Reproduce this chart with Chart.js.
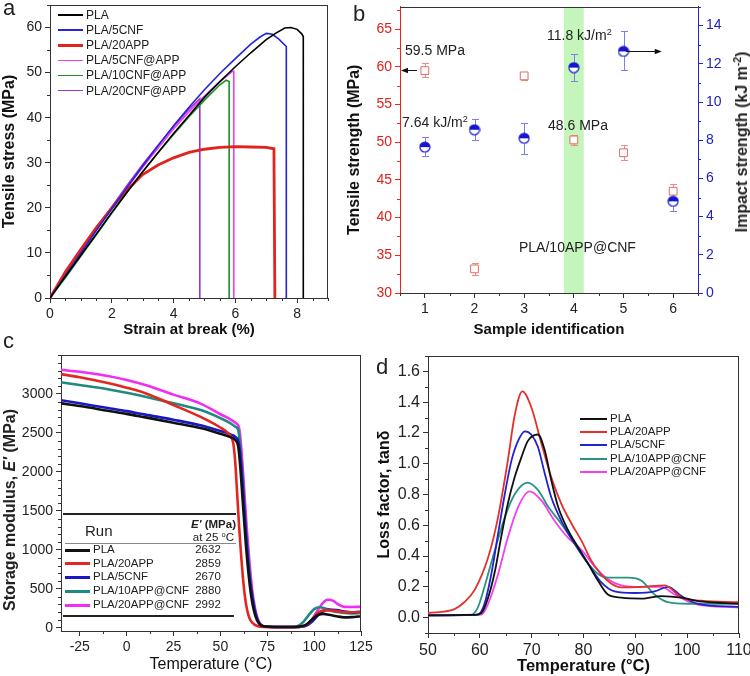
<!DOCTYPE html>
<html>
<head>
<meta charset="utf-8">
<script src="https://cdn.jsdelivr.net/npm/chart.js@4.4.1/dist/chart.umd.min.js"></script>
<style>
  body { margin: 0; background: #fff; }
  #fig { position: relative; width: 750px; height: 676px; overflow: hidden; background: #fff;
         font-family: "Liberation Sans", Arial, sans-serif; color: #222; }
  #fig canvas { position: absolute; }
  .t { position: absolute; white-space: nowrap; line-height: 1; }
  .mid { transform: translateY(-50%); }
  .rot { transform: translate(-50%, -50%) rotate(-90deg); font-weight: bold; font-size: 16px; }
  .panel { font-size: 22px; }
  sup { font-size: 65%; vertical-align: 0.55em; line-height: 0; }
</style>
</head>
<body>
<div id="fig">
  <canvas id="chartA" width="375" height="340" style="left:0;top:0"></canvas>
  <canvas id="chartB" width="405" height="340" style="left:345px;top:0"></canvas>
  <canvas id="chartC" width="375" height="336" style="left:0;top:340px"></canvas>
  <canvas id="chartD" width="375" height="336" style="left:375px;top:340px"></canvas>

  <div class="t panel" style="left:3px;top:-3px">a</div>
  <div class="t panel" style="left:353px;top:3px">b</div>
  <div class="t panel" style="left:3px;top:330px">c</div>
  <div class="t panel" style="left:376px;top:356px">d</div>

  <!-- panel b notes -->
  <div class="t mid" style="left:405px;top:50px;font-size:14px">59.5 MPa</div>
  <div class="t mid" style="left:402px;top:122px;font-size:14px">7.64 kJ/m<sup>2</sup></div>
  <div class="t mid" style="left:547px;top:35px;font-size:14px">11.8 kJ/m<sup>2</sup></div>
  <div class="t mid" style="left:548px;top:125px;font-size:14px">48.6 MPa</div>
  <div class="t mid" style="left:519px;top:247px;font-size:14px">PLA/10APP@CNF</div>
  <div class="t rot" style="left:742px;top:142px">Impact strength (kJ m<sup>-2</sup>)</div>

  <!-- panel c titles and table -->
  <div class="t rot" style="left:10px;top:510px">Storage modulus, <i>E'</i> (MPa)</div>
  <div style="position:absolute;left:63px;top:513px;width:173px;height:2px;background:#222"></div>
  <div style="position:absolute;left:65px;top:543px;width:171px;height:1px;background:#888"></div>
  <div style="position:absolute;left:63px;top:615px;width:171px;height:2px;background:#222"></div>
  <div class="t mid" style="left:85px;top:530px;font-size:15px">Run</div>
  <div class="t mid" style="right:514px;top:525px;font-size:11.5px;font-weight:bold"><i>E'</i> (MPa)</div>
  <div class="t mid" style="right:516px;top:538px;font-size:11.5px">at 25 <sup>o</sup>C</div>
</div>

<script>
Chart.defaults.font.family = "'Liberation Sans', Arial, sans-serif";
Chart.defaults.color = "#222";
Chart.defaults.animation = false;
Chart.defaults.plugins.legend.display = false;
Chart.defaults.plugins.tooltip.enabled = false;
Chart.defaults.elements.point.radius = 0;

// ---- a: stress-strain curves ----
const strainPLA = [0, 0.5, 1, 1.5, 2, 2.5, 3, 3.5, 4, 4.5, 5, 5.5, 6, 6.5, 7, 7.3, 7.6, 7.8, 8.0, 8.15, 8.2, 8.2];
const stressPLA = [0, 4.8, 9.5, 14.2, 19, 23.5, 28, 32.3, 36.5, 40.5, 44.5, 48, 51.3, 54.4, 57.3, 58.7, 59.9, 60, 59.6, 58.6, 58, 0];
const strain5CNF = [0, 0.5, 1, 1.5, 2, 2.5, 3, 3.5, 4, 4.5, 5, 5.5, 6, 6.5, 6.8, 7.0, 7.2, 7.4, 7.65, 7.65];
const stress5CNF = [0, 5, 10, 15, 19.8, 24.6, 29.3, 33.8, 38.2, 42.3, 46.2, 49.8, 53.1, 56.3, 57.9, 58.7, 58.5, 57.5, 55.8, 0];
const strain20APP = [0, 0.5, 1, 1.5, 2, 2.5, 3, 3.5, 4, 4.5, 5, 5.5, 6, 6.5, 7, 7.25, 7.28];
const stress20APP = [0, 5.8, 10.8, 15.6, 20, 24, 27.4, 29.5, 31.1, 32.3, 33, 33.4, 33.6, 33.5, 33.4, 33.1, 0];
const strain5CNFAPP = [0, 0.5, 1, 1.5, 2, 2.5, 3, 3.5, 4, 4.5, 5, 5.5, 5.9, 5.95, 5.95];
const stress5CNFAPP = [0, 5, 10, 15, 19.8, 24.5, 29, 33.3, 37.5, 41.3, 44.8, 48, 50.3, 50.3, 0];
const strain10CNFAPP = [0, 0.5, 1, 1.5, 2, 2.5, 3, 3.5, 4, 4.5, 5, 5.5, 5.7, 5.8, 5.8];
const stress10CNFAPP = [0, 4.5, 9.3, 14, 18.8, 23.5, 28, 32.2, 36.3, 40.2, 43.9, 47.3, 48.3, 48, 0];
const strain20CNFAPP = [0, 0.5, 1, 1.5, 2, 2.5, 3, 3.5, 4, 4.5, 4.85, 4.85];
const stress20CNFAPP = [0, 5.2, 10.3, 15.3, 20.2, 25, 29.6, 33.9, 38, 41.9, 44.2, 0];
const namesA = ["PLA", "PLA/5CNF", "PLA/20APP", "PLA/5CNF@APP", "PLA/10CNF@APP", "PLA/20CNF@APP"];
const strainA = [strainPLA, strain5CNF, strain20APP, strain5CNFAPP, strain10CNFAPP, strain20CNFAPP];
const stressA = [stressPLA, stress5CNF, stress20APP, stress5CNFAPP, stress10CNFAPP, stress20CNFAPP];
const ticksStrain = [0, 2, 4, 6, 8];
const ticksStress = [0, 10, 20, 30, 40, 50, 60];

// ---- b: tensile and impact strength ----
const sampleIds = [1, 2, 3, 4, 5, 6];
const tensileMean = [59.5, 33.2, 58.8, 50.3, 48.6, 43.5];
const tensileLow = [58.6, 32.4, 58.3, 49.6, 47.7, 42.6];
const tensileHigh = [60.5, 34.0, 59.2, 50.9, 49.6, 44.4];
const impactMean = [7.64, 8.55, 8.1, 11.8, 12.65, 4.8];
const impactLow = [7.15, 8.0, 7.3, 11.1, 11.7, 4.3];
const impactHigh = [8.15, 9.1, 8.9, 12.5, 13.7, 5.2];
const bandRange = [3.8, 4.2];
const ticksSample = [1, 2, 3, 4, 5, 6];
const ticksTensile = [30, 35, 40, 45, 50, 55, 60, 65];
const ticksImpact = [0, 2, 4, 6, 8, 10, 12, 14];

// ---- c: storage modulus ----
const tempPLA_c = [-35, -25, -10, 0, 10, 25, 40, 50, 55, 58, 59.5, 60.5, 62, 63.5, 65, 66.5, 68, 69.5, 71, 73, 80, 90, 93, 96, 99, 102, 105, 108, 112, 116, 120, 125];
const modPLA = [2880, 2845, 2785, 2745, 2700, 2632, 2560, 2490, 2450, 2410, 2330, 2100, 1600, 1100, 700, 400, 210, 100, 45, 20, 12, 12, 20, 45, 110, 165, 180, 168, 150, 135, 138, 150];
const temp20APP_c = [-35, -25, -10, 0, 10, 25, 40, 50, 54, 56, 57, 58, 59, 60, 61, 62, 63, 64, 65, 66, 68, 70, 73, 80, 90, 93, 96, 99, 102, 105, 108, 112, 116, 120, 125];
const mod20APP = [3255, 3215, 3140, 3080, 3010, 2859, 2700, 2570, 2500, 2440, 2350, 2100, 1700, 1300, 950, 650, 420, 260, 160, 100, 45, 22, 12, 10, 10, 15, 40, 110, 190, 225, 225, 215, 200, 200, 205];
const temp5CNF_c = [-35, -25, -10, 0, 10, 25, 40, 50, 55, 58, 59.5, 60.5, 62, 63.5, 65, 66.5, 68, 69.5, 71, 73, 80, 90, 93, 96, 99, 102, 105, 108, 112, 116, 120, 125];
const mod5CNF = [2920, 2880, 2820, 2780, 2735, 2670, 2595, 2525, 2485, 2450, 2400, 2250, 1800, 1250, 800, 480, 260, 120, 50, 22, 12, 12, 15, 30, 80, 160, 215, 235, 228, 210, 200, 205];
const temp10APPCNF_c = [-35, -25, -10, 0, 10, 25, 40, 50, 55, 58, 59.5, 60.5, 62, 63.5, 65, 66.5, 68, 69.5, 71, 73, 80, 88, 91, 94, 97, 100, 103, 106, 110, 115, 120, 125];
const mod10APPCNF = [3150, 3115, 3060, 3015, 2965, 2880, 2790, 2690, 2630, 2580, 2540, 2350, 1850, 1300, 850, 500, 270, 120, 50, 20, 12, 12, 20, 70, 160, 240, 265, 250, 215, 195, 185, 190];
const temp20APPCNF_c = [-35, -25, -10, 0, 10, 25, 40, 50, 55, 58, 60, 61, 62.5, 64, 65.5, 67, 68.5, 70, 71.5, 73.5, 80, 92, 95, 98, 101, 104, 107, 110, 113, 116, 120, 125];
const mod20APPCNF = [3310, 3285, 3230, 3180, 3115, 2992, 2870, 2740, 2680, 2630, 2560, 2350, 1850, 1300, 850, 480, 250, 110, 45, 18, 12, 12, 25, 80, 190, 300, 360, 350, 300, 270, 268, 270];
const namesCD = ["PLA", "PLA/20APP", "PLA/5CNF", "PLA/10APP@CNF", "PLA/20APP@CNF"];
const modAt25 = ["2632", "2859", "2670", "2880", "2992"];
const tempC = [tempPLA_c, temp20APP_c, temp5CNF_c, temp10APPCNF_c, temp20APPCNF_c];
const modC = [modPLA, mod20APP, mod5CNF, mod10APPCNF, mod20APPCNF];
const ticksTempC = [-25, 0, 25, 50, 75, 100, 125];
const ticksMod = [0, 500, 1000, 1500, 2000, 2500, 3000];

// ---- d: loss factor ----
const tempPLA_d = [50, 59, 60.3, 61.6, 62.9, 64.1, 65.4, 66.7, 68, 69.3, 71.2, 72.5, 73.8, 75.1, 77, 78.9, 80.9, 82.8, 84.7, 87.3, 91.2, 95, 98.9, 102.7, 110];
const tanPLA = [0.015, 0.018, 0.03, 0.13, 0.3, 0.52, 0.74, 0.91, 1.04, 1.15, 1.19, 1.09, 0.89, 0.72, 0.57, 0.46, 0.35, 0.24, 0.15, 0.13, 0.124, 0.14, 0.13, 0.105, 0.09];
const temp20APP_d = [50, 55, 57, 59, 61.6, 63.5, 65.4, 66.7, 68.2, 69.9, 71.9, 73.8, 75.7, 77.7, 79.6, 81.5, 83.4, 85.4, 87.3, 91.2, 95.7, 98.9, 102.7, 110];
const tan20APP = [0.03, 0.054, 0.1, 0.18, 0.39, 0.65, 1.02, 1.31, 1.47, 1.37, 1.13, 0.91, 0.74, 0.61, 0.5, 0.37, 0.28, 0.22, 0.196, 0.2, 0.21, 0.13, 0.11, 0.1];
const temp5CNF_d = [50, 59.6, 60.9, 62.2, 63.5, 64.8, 66.1, 67.4, 68.7, 69.9, 71.2, 72.5, 73.8, 75.7, 78.3, 80.9, 83.4, 86, 89.9, 93.7, 96.3, 98.9, 102.1, 110];
const tan5CNF = [0.015, 0.02, 0.09, 0.28, 0.54, 0.8, 1.02, 1.15, 1.21, 1.19, 1.11, 0.94, 0.78, 0.63, 0.48, 0.35, 0.23, 0.17, 0.16, 0.17, 0.2, 0.14, 0.09, 0.07];
const temp10APPCNF_d = [50, 58.4, 59.6, 60.9, 62.9, 64.8, 66.7, 69.2, 71.2, 73.2, 75.7, 78.3, 80.9, 83.4, 84.7, 88.6, 91.2, 93.7, 96.3, 100.2, 110];
const tan10APPCNF = [0.015, 0.02, 0.065, 0.2, 0.44, 0.65, 0.8, 0.877, 0.83, 0.72, 0.61, 0.48, 0.35, 0.27, 0.26, 0.26, 0.24, 0.15, 0.1, 0.09, 0.09];
const temp20APPCNF_d = [50, 60.3, 61.6, 63.5, 65.4, 67.4, 69.6, 71.9, 74.4, 77, 79.6, 82.2, 84.7, 87.3, 91.2, 95, 97.6, 101.4, 110];
const tan20APPCNF = [0.015, 0.02, 0.09, 0.28, 0.52, 0.72, 0.82, 0.76, 0.63, 0.52, 0.44, 0.33, 0.25, 0.21, 0.2, 0.2, 0.15, 0.09, 0.065];
const tempD = [tempPLA_d, temp20APP_d, temp5CNF_d, temp10APPCNF_d, temp20APPCNF_d];
const tanD = [tanPLA, tan20APP, tan5CNF, tan10APPCNF, tan20APPCNF];
const ticksTempD = [50, 60, 70, 80, 90, 100, 110];
const ticksTan = [0, 0.2, 0.4, 0.6, 0.8, 1.0, 1.2, 1.4, 1.6];

// styles
const colorsA = ["#000000", "#2424d8", "#e3221c", "#f03cf0", "#1f8f2a", "#9a36cf"];
const widthsA = [1.6, 1.6, 2.8, 1.6, 1.6, 1.6];
const colorsC = ["#111111", "#e3261f", "#1818c8", "#1f8a7e", "#f22cf2"];
const colorsD = ["#111111", "#e3302a", "#2323cc", "#2a9484", "#f340f3"];

const pts = (xs, ys) => xs.map((x, i) => ({ x: x, y: ys[i] }));

function axis(o) {
  return {
    type: "linear",
    position: o.position,
    min: o.min,
    max: o.max,
    afterBuildTicks: (s) => { s.ticks = o.ticks.map((v) => ({ value: v })); },
    afterFit: (s) => {
      if (s.isHorizontal()) { s.height = o.size; s.paddingLeft = 0; s.paddingRight = 0; }
      else { s.width = o.size; s.paddingTop = 0; s.paddingBottom = 0; }
    },
    grid: { drawOnChartArea: false, drawTicks: true, tickLength: 5, color: o.color || "#333" },
    border: { display: true, color: o.color || "#333", width: 1 },
    ticks: {
      color: o.labelColor || "#222", font: { size: o.fontSize || 14 }, padding: 3,
      maxRotation: 0, autoSkip: false, callback: o.format || ((v) => String(v)),
    },
    title: o.title
      ? { display: true, text: o.title, color: "#111", font: { size: o.titleSize || 15, weight: o.titleWeight || "bold" }, padding: { top: 0, bottom: o.titlePad || 0 } }
      : { display: false },
  };
}

// top / right frame lines
const frame = {
  id: "frame",
  afterDatasetsDraw(chart, args, opts) {
    const a = chart.chartArea, g = chart.ctx;
    g.save();
    g.strokeStyle = "#333";
    g.lineWidth = 1;
    g.beginPath();
    const top = Math.round(a.top) + 0.5, right = Math.round(a.right) - 0.5;
    g.moveTo(a.left, top); g.lineTo(a.right, top);
    if (opts.right !== false) { g.moveTo(right, a.top); g.lineTo(right, a.bottom); }
    g.stroke();
    g.restore();
  },
};

// short unlabeled ticks between the major ones
const minor = {
  id: "minor",
  afterDraw(chart, args, opts) {
    const g = chart.ctx, a = chart.chartArea;
    (opts.list || []).forEach(([id, step]) => {
      const s = chart.scales[id];
      const majors = s.ticks.map((t) => t.value);
      g.save();
      g.strokeStyle = s.options.grid.color;
      g.lineWidth = 1;
      g.beginPath();
      for (let v = Math.ceil(s.min / step - 1e-9) * step; v <= s.max + 1e-9; v += step) {
        if (majors.some((m) => Math.abs(m - v) < step / 100)) continue;
        const p = Math.round(s.getPixelForValue(v)) + 0.5;
        if (s.isHorizontal()) { g.moveTo(p, a.bottom); g.lineTo(p, a.bottom + 3); }
        else if (s.position === "left") { g.moveTo(a.left, p); g.lineTo(a.left - 3, p); }
        else { g.moveTo(a.right, p); g.lineTo(a.right + 3, p); }
      }
      g.stroke();
      g.restore();
    });
  },
};

// line + label keys drawn as html
function drawKey(names, colors, widths, left, top, gap, lineLen, size) {
  const fig = document.getElementById("fig");
  names.forEach((name, i) => {
    const y = typeof top === "number" ? top + i * gap : top[i];
    const line = document.createElement("div");
    line.style.position = "absolute";
    line.style.left = left + "px";
    line.style.top = y - widths[i] / 2 + "px";
    line.style.width = lineLen + "px";
    line.style.height = widths[i] + "px";
    line.style.background = colors[i];
    const label = document.createElement("div");
    label.className = "t mid";
    label.style.left = left + lineLen + 3 + "px";
    label.style.top = y + "px";
    label.style.fontSize = size + "px";
    label.textContent = name;
    fig.appendChild(line);
    fig.appendChild(label);
  });
}

// ---- chart a ----
const ctxA = document.getElementById("chartA").getContext("2d");
const chartA = new Chart(ctxA, {
  type: "line",
  data: {
    datasets: namesA.map((n, i) => ({
      label: n, data: pts(strainA[i], stressA[i]), borderColor: colorsA[i], borderWidth: widthsA[i], tension: 0,
    })),
  },
  options: {
    responsive: false,
    layout: { padding: { top: 5, right: 47, left: 0, bottom: 0 } },
    scales: {
      x: axis({ position: "bottom", min: 0, max: 9, ticks: ticksStrain, size: 42, title: "Strain at break (%)", titleSize: 15, titlePad: 1 }),
      y: axis({ position: "left", min: 0, max: 65, ticks: ticksStress, size: 50, title: "Tensile stress (MPa)", titleSize: 16 }),
    },
    plugins: { minor: { list: [["x", 0.5], ["y", 5]] } },
  },
  plugins: [frame, minor],
});
drawKey(namesA, colorsA, widthsA, 58, 15, 15.1, 25, 12);

// ---- chart b ----
function halfDot(r, color) {
  const c = document.createElement("canvas");
  c.width = c.height = 2 * r + 2;
  const g = c.getContext("2d");
  g.beginPath(); g.arc(r + 1, r + 1, r, 0, Math.PI); g.fillStyle = "#fff"; g.fill();
  g.beginPath(); g.arc(r + 1, r + 1, r, Math.PI, 2 * Math.PI); g.fillStyle = color; g.fill();
  g.beginPath(); g.arc(r + 1, r + 1, r, 0, 2 * Math.PI); g.strokeStyle = color; g.lineWidth = 1.2; g.stroke();
  return c;
}

function arrowTo(g, x1, y1, x2, y2) {
  const dir = Math.sign(x2 - x1);
  g.beginPath(); g.moveTo(x1, y1); g.lineTo(x2 - dir * 6, y2); g.stroke();
  g.beginPath(); g.moveTo(x2, y2); g.lineTo(x2 - dir * 7, y2 - 2.8); g.lineTo(x2 - dir * 7, y2 + 2.8); g.closePath(); g.fill();
}

const leftArrowX = [0.84, 0.52];
const leftArrowY = 59.6;
const rightArrowX = [5.05, 5.77];
const rightArrowY = 12.65;

const bExtras = {
  id: "bExtras",
  beforeDatasetsDraw(chart) {
    const g = chart.ctx, xs = chart.scales.x, a = chart.chartArea;
    g.save();
    const x1 = xs.getPixelForValue(bandRange[0]), x2 = xs.getPixelForValue(bandRange[1]);
    g.fillStyle = "#c4f6bc";
    g.fillRect(x1, a.top + 1, x2 - x1, a.bottom - a.top - 1);
    chart.data.datasets.forEach((ds) => {
      const ys = chart.scales[ds.yAxisID];
      g.strokeStyle = ds.errColor;
      g.lineWidth = 1;
      g.beginPath();
      ds.data.forEach((p, i) => {
        const px = Math.round(xs.getPixelForValue(p.x)) + 0.5;
        const lo = Math.round(ys.getPixelForValue(ds.errLow[i])) + 0.5;
        const hi = Math.round(ys.getPixelForValue(ds.errHigh[i])) + 0.5;
        g.moveTo(px, lo); g.lineTo(px, hi);
        g.moveTo(px - 3.5, lo); g.lineTo(px + 3.5, lo);
        g.moveTo(px - 3.5, hi); g.lineTo(px + 3.5, hi);
      });
      g.stroke();
    });
    g.restore();
  },
  afterDatasetsDraw(chart) {
    const g = chart.ctx, xs = chart.scales.x;
    g.save();
    g.strokeStyle = "#111"; g.fillStyle = "#111"; g.lineWidth = 1;
    const yl = Math.round(chart.scales.y.getPixelForValue(leftArrowY)) + 0.5;
    arrowTo(g, xs.getPixelForValue(leftArrowX[0]), yl, xs.getPixelForValue(leftArrowX[1]), yl);
    const yr = Math.round(chart.scales.y2.getPixelForValue(rightArrowY)) + 0.5;
    arrowTo(g, xs.getPixelForValue(rightArrowX[0]), yr, xs.getPixelForValue(rightArrowX[1]), yr);
    g.restore();
  },
};

const ctxB = document.getElementById("chartB").getContext("2d");
const chartB = new Chart(ctxB, {
  type: "scatter",
  data: {
    datasets: [
      {
        label: "Impact strength", data: pts(sampleIds, impactMean), yAxisID: "y2",
        pointStyle: halfDot(5, "#1414d2"), pointRadius: 5, errLow: impactLow, errHigh: impactHigh, errColor: "#7d7de2",
      },
      {
        label: "Tensile strength", data: pts(sampleIds, tensileMean), yAxisID: "y",
        pointStyle: "rect", pointRadius: 5.5, borderColor: "#e66a62", backgroundColor: "#fff", borderWidth: 1,
        errLow: tensileLow, errHigh: tensileHigh, errColor: "#ef8a84",
      },
    ],
  },
  options: {
    responsive: false,
    layout: { padding: { top: 5, right: 0, left: 0, bottom: 0 } },
    scales: {
      x: axis({ position: "bottom", min: 0.5, max: 6.5, ticks: ticksSample, size: 47, title: "Sample identification", titleSize: 15, titlePad: 1 }),
      y: axis({ position: "left", min: 30, max: 68, ticks: ticksTensile, size: 55, color: "#e8261e", labelColor: "#e0201a", title: "Tensile strength (MPa)", titleSize: 16 }),
      y2: axis({ position: "right", min: 0, max: 15, ticks: ticksImpact, size: 52, color: "#2525c8", labelColor: "#2020c0" }),
    },
    plugins: { frame: { right: false }, minor: { list: [["x", 0.5], ["y", 2.5], ["y2", 1]] } },
  },
  plugins: [bExtras, frame, minor],
});

// ---- chart c ----
const ctxC = document.getElementById("chartC").getContext("2d");
const chartC = new Chart(ctxC, {
  type: "line",
  data: {
    datasets: namesCD.map((n, i) => ({
      label: n, data: pts(tempC[i], modC[i]), borderColor: colorsC[i], borderWidth: 2.6, cubicInterpolationMode: "monotone",
    })),
  },
  options: {
    responsive: false,
    layout: { padding: { top: 15, right: 14, left: 0, bottom: 0 } },
    scales: {
      x: axis({ position: "bottom", min: -35, max: 125, ticks: ticksTempC, size: 45, title: "Temperature (°C)", titleSize: 16, titleWeight: "normal", titlePad: 2 }),
      y: axis({ position: "left", min: -40, max: 3500, ticks: ticksMod, size: 61 }),
    },
    plugins: { minor: { list: [["x", 12.5], ["y", 100]] } },
  },
  plugins: [frame, minor],
});
drawKey(namesCD, colorsC, [3, 3, 3, 3, 3], 65, [550, 563.5, 577, 591, 605], 0, 25, 11.5);
modAt25.forEach((v, i) => {
  const d = document.createElement("div");
  d.className = "t";
  d.style.left = "208px";
  d.style.top = [550, 563.5, 577, 591, 605][i] + "px";
  d.style.transform = "translate(-50%, -50%)";
  d.style.fontSize = "11.5px";
  d.textContent = v;
  document.getElementById("fig").appendChild(d);
});

// ---- chart d ----
const ctxD = document.getElementById("chartD").getContext("2d");
const chartD = new Chart(ctxD, {
  type: "line",
  data: {
    datasets: namesCD.map((n, i) => ({
      label: n, data: pts(tempD[i], tanD[i]), borderColor: colorsD[i], borderWidth: 1.8, cubicInterpolationMode: "monotone",
    })),
  },
  options: {
    responsive: false,
    layout: { padding: { top: 16, right: 11, left: 0, bottom: 0 } },
    scales: {
      x: axis({ position: "bottom", min: 50, max: 110, ticks: ticksTempD, size: 43, fontSize: 16, title: "Temperature (°C)", titleSize: 16.5, titlePad: 0 }),
      y: axis({ position: "left", min: -0.1, max: 1.7, ticks: ticksTan, size: 53, fontSize: 16, format: (v) => v.toFixed(1), title: "Loss factor, tanδ", titleSize: 16 }),
    },
    plugins: { minor: { list: [["x", 5], ["y", 0.1]] } },
  },
  plugins: [frame, minor],
});
drawKey(namesCD, colorsD, [2, 2, 2, 2, 2], 580, 419, 13.2, 27, 11.5);
</script>
</body>
</html>
